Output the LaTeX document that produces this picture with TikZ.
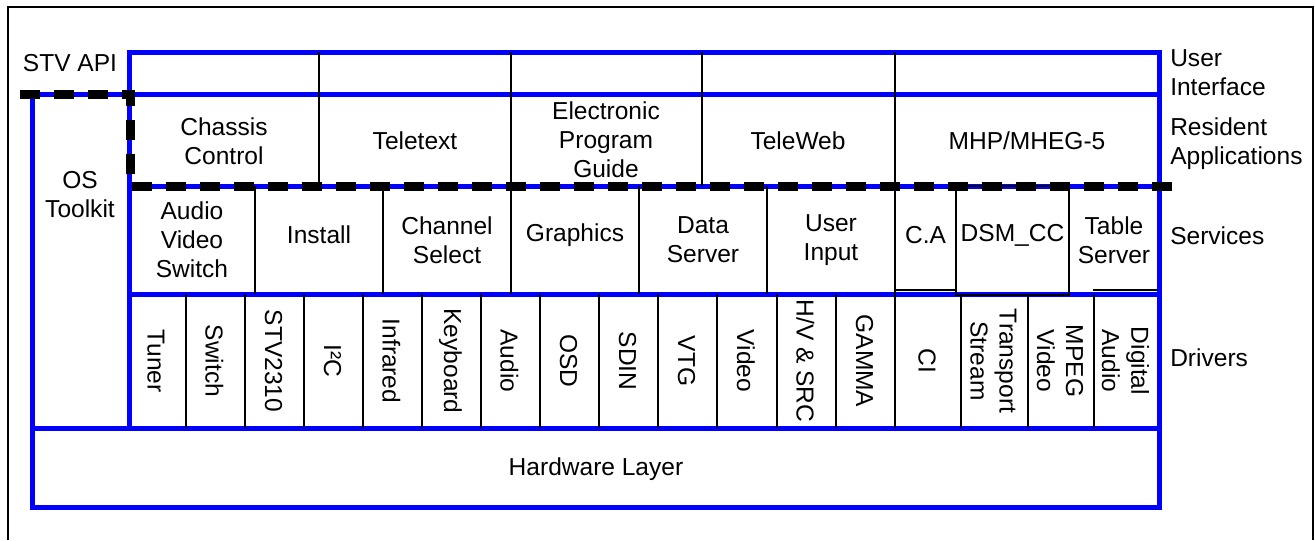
\documentclass[tikz,border=0pt]{standalone}
\usepackage{fontspec}
\setmainfont{Liberation Sans}
\definecolor{layerblue}{RGB}{0,0,255}
\tikzset{
  layer/.style={color=layerblue, line width=3.75pt},
  cell/.style={line width=1pt},
  apiline/.style={line width=6.75pt, dash pattern=on 15pt off 10.5pt},
  lbl/.style={inner sep=0.75pt, align=center},
  side/.style={inner sep=0.75pt, align=left, anchor=west},
  drv/.style={lbl, rotate=-90},
}

\begin{document}
\begin{tikzpicture}[x=0.75pt,y=0.75pt,yscale=-1,xscale=1, font=\fontsize{18.4}{21.8}\selectfont]
\useasboundingbox (0,0) rectangle (1315,540);

% frame
\draw [cell] (8,540) -- (8,7) -- (1313,7) -- (1313,540);

% layers
\draw [layer] (129,428) -- (129,52) -- (1159,52) -- (1159,507) -- (32,507) -- (32,94) ;
\draw [layer] (20,94) -- (1159,94) ;
\draw [layer] (129,186) -- (1159,186) ;
\draw [layer] (129,294) -- (1159,294) ;
\draw [layer] (32,428) -- (1159,428) ;

% cells
\foreach \x in {319,511,702,895} \draw [cell] (\x,52) -- (\x,186) ;
\foreach \x in {255,383,511,639,767,895,956,1069} \draw [cell] (\x,186) -- (\x,294) ;
\foreach \x in {186,245,304,363,422,481,540,599,658,717,777,836,895,961,1028,1094} \draw [cell] (\x,294) -- (\x,428) ;
\draw [cell] (895,290) -- (956,290) ;
\draw [cell] (956,186) rectangle (1069,295) ;
\draw [cell] (1093,290) -- (1157,290) ;

% api boundary
\draw [apiline] (20,94) -- (130,94) -- (130,186) -- (1177,186) ;

% labels
\node [lbl] (api) at (70,63) {STV API};
\node [lbl] (os) at (80,195) {OS\\Toolkit};
\node [side] (ui) at (1169,73) {User\\Interface};
\node [side] (resapp) at (1169,144) {Resident\\Applications};
\node [side] (serv) at (1169,236) {Services};
\node [side] (drvs) at (1169,358) {Drivers};

\node [lbl] (chassis) at (224,141) {Chassis\\Control};
\node [lbl] (teletext) at (415,141) {Teletext};
\node [lbl] (epg) at (606,140) {Electronic\\Program\\Guide};
\node [lbl] (teleweb) at (798,141) {TeleWeb};
\node [lbl] (mhp) at (1027,141) {MHP/MHEG-5};

\node [lbl] (avs) at (192,240) {Audio\\Video\\Switch};
\node [lbl] (install) at (319,235) {Install};
\node [lbl] (chsel) at (447,240) {Channel\\Select};
\node [lbl] (graphics) at (575,235) {Graphics};
\node [lbl] (dataserv) at (703,240) {Data\\Server};
\node [lbl] (userin) at (831,240) {User\\Input};
\node [lbl] (ca) at (925.5,235) {C.A};
\node [lbl] (dsmcc) at (1012.5,235) {DSM\_CC};
\node [lbl] (tabserv) at (1114,240) {Table\\Server};

\node [drv] (tuner) at (156,361) {Tuner};
\node [drv] (switch) at (214.5,361) {Switch};
\node [drv] (stv) at (273.5,361) {STV2310};
\node [drv] (iic) at (332.5,361) {I²C};
\node [drv] (infrared) at (391.5,361) {Infrared};
\node [drv] (keyboard) at (450.5,361) {Keyboard};
\node [drv] (audio) at (509.5,361) {Audio};
\node [drv] (osd) at (568.5,361) {OSD};
\node [drv] (sdin) at (627.5,361) {SDIN};
\node [drv] (vtg) at (686.5,361) {VTG};
\node [drv] (video) at (746,361) {Video};
\node [drv] (hvsrc) at (805.5,361) {H/V \& SRC};
\node [drv] (gamma) at (864.5,361) {GAMMA};
\node [drv] (ci) at (927,361) {CI};
\node [drv] (ts) at (993.5,361) {Transport\\Stream};
\node [drv] (mpeg) at (1060,361) {MPEG\\Video};
\node [drv] (dac) at (1125.5,361) {Digital\\Audio};

\node [lbl] (hw) at (596,469) {Hardware Layer};

\end{tikzpicture}
\end{document}
